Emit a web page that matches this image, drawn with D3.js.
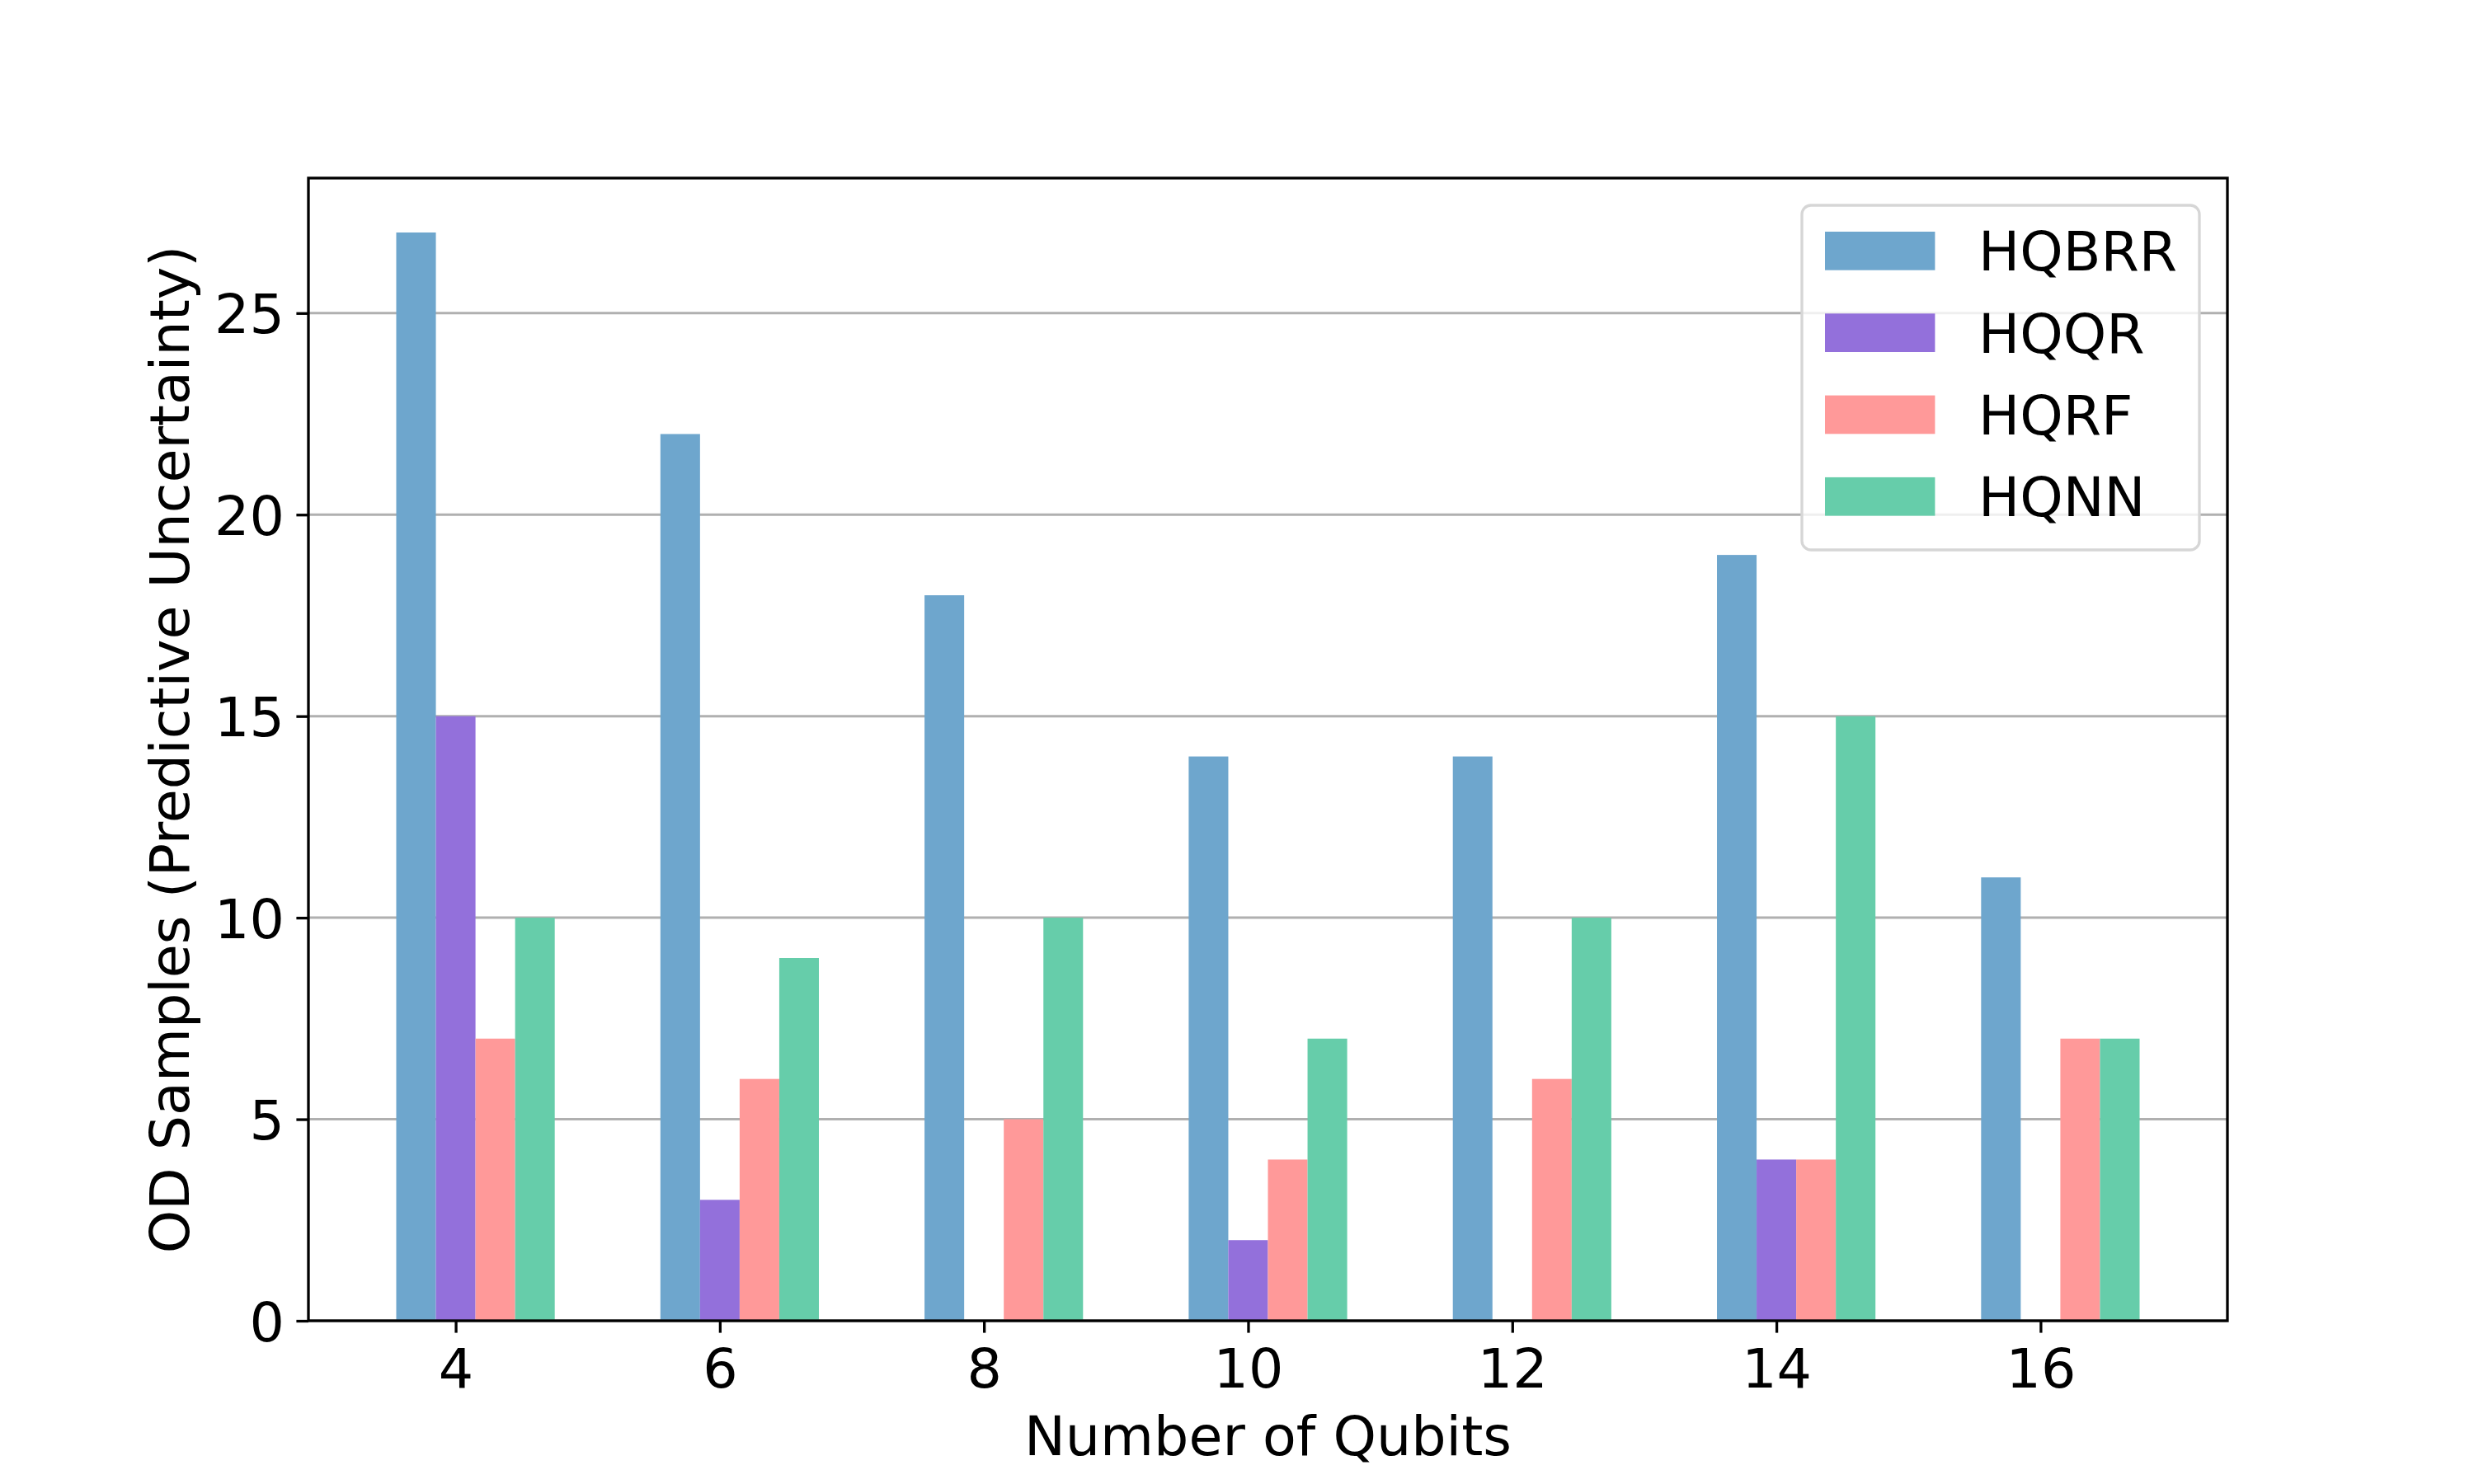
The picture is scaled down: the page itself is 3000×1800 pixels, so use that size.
<!DOCTYPE html>
<html>
<head>
<meta charset="utf-8">
<script src="https://cdn.jsdelivr.net/npm/d3@7"></script>
<style>
  html, body { margin: 0; padding: 0; background: #fff; }
  text { font-family: "DejaVu Sans", sans-serif; fill: #000; }
</style>
</head>
<body>
<svg id="chart" width="3000" height="1800"></svg>
<script>
const qubits = [4, 6, 8, 10, 12, 14, 16];
const seriesNames = ["HQBRR", "HQQR", "HQRF", "HQNN"];
const hqbrr = [27, 22, 18, 14, 14, 19, 11];
const hqqr  = [15, 3, 0, 2, 0, 4, 0];
const hqrf  = [7, 6, 5, 4, 6, 4, 7];
const hqnn  = [10, 9, 10, 7, 10, 15, 7];
const yTicks = [0, 5, 10, 15, 20, 25];
const xLabel = "Number of Qubits";
const yLabel = "OD Samples (Predictive Uncertainty)";

const seriesValues = [hqbrr, hqqr, hqrf, hqnn];
const colors = ["#6ea6cd", "#9370db", "#ff9999", "#66cdaa"];
const barW = 0.3;
const offsets = [-0.3, 0, 0.3, 0.6];

const L = 374, R = 2701, T = 216, B = 1602;
const fs = 66.7;

const svg = d3.select("#chart");
svg.append("rect").attr("width", 3000).attr("height", 1800).attr("fill", "#fff");

const x = d3.scaleLinear().domain([2.885, 17.415]).range([L, R]);
const y = d3.scaleLinear().domain([0, 28.35]).range([B, T]);

// grid
svg.append("g").selectAll("line").data(yTicks).join("line")
  .attr("x1", L).attr("x2", R)
  .attr("y1", d => y(d)).attr("y2", d => y(d))
  .attr("stroke", "#b0b0b0").attr("stroke-width", 3);

// bars
seriesValues.forEach((vals, si) => {
  svg.append("g").selectAll("rect").data(vals).join("rect")
    .attr("x", (d, i) => x(qubits[i] + offsets[si] - barW / 2))
    .attr("width", (d, i) => x(qubits[i] + offsets[si] + barW / 2) - x(qubits[i] + offsets[si] - barW / 2))
    .attr("y", d => y(d))
    .attr("height", d => y(0) - y(d))
    .attr("fill", colors[si]);
});

// axes
const xAxis = d3.axisBottom(x).tickValues(qubits).tickSize(14.6).tickPadding(14.6).tickFormat(d3.format("d"));
const gx = svg.append("g").attr("transform", `translate(0,${B})`).call(xAxis);
gx.select(".domain").remove();
gx.selectAll(".tick line").attr("stroke", "#000").attr("stroke-width", 3.3);
gx.selectAll(".tick text").attr("font-size", fs).attr("font-family", "DejaVu Sans").attr("fill", "#000")
  .attr("dy", "0.78em");

const yAxis = d3.axisLeft(y).tickValues(yTicks).tickSize(14.6).tickPadding(14.6).tickFormat(d3.format("d"));
const gy = svg.append("g").attr("transform", `translate(${L},0)`).call(yAxis);
gy.select(".domain").remove();
gy.selectAll(".tick line").attr("stroke", "#000").attr("stroke-width", 3.3);
gy.selectAll(".tick text").attr("font-size", fs).attr("font-family", "DejaVu Sans").attr("fill", "#000")
  .attr("dy", "0.36em");

// spines
svg.append("rect").attr("x", L).attr("y", T).attr("width", R - L).attr("height", B - T)
  .attr("fill", "none").attr("stroke", "#000").attr("stroke-width", 3.3);

// axis labels
svg.append("text").attr("x", (L + R) / 2).attr("y", 1765).attr("text-anchor", "middle")
  .attr("font-size", fs).text(xLabel);
svg.append("text").attr("transform", `translate(229,${(T + B) / 2}) rotate(-90)`)
  .attr("text-anchor", "middle").attr("font-size", fs).text(yLabel);

// legend
const lg = svg.append("g");
lg.append("rect").attr("x", 2185).attr("y", 249).attr("width", 482).attr("height", 418)
  .attr("rx", 11).attr("ry", 11)
  .attr("fill", "#fff").attr("fill-opacity", 0.8)
  .attr("stroke", "#d6d6d6").attr("stroke-width", 3.3);
seriesNames.forEach((name, i) => {
  const yy = 281 + i * 99.3;
  lg.append("rect").attr("x", 2213).attr("y", yy).attr("width", 133.4).attr("height", 46.7).attr("fill", colors[i]);
  lg.append("text").attr("x", 2399).attr("y", yy + 47.3).attr("font-size", fs).text(name);
});
</script>
</body>
</html>
